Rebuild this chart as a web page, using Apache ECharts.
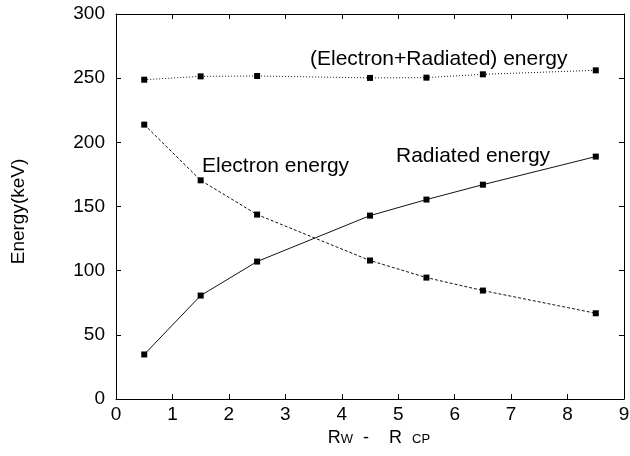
<!DOCTYPE html>
<html>
<head>
<meta charset="utf-8">
<script src="https://cdn.jsdelivr.net/npm/echarts@6/dist/echarts.min.js"></script>
<style>html,body{margin:0;padding:0;background:#fff}#c{width:630px;height:456px}</style>
</head>
<body>
<div id="c"></div>
<script>
var xValues = [0.5, 1.5, 2.5, 4.5, 5.5, 6.5, 8.5];
var electronEnergy = [213.8, 170.4, 143.7, 107.9, 94.6, 84.5, 66.8];
var radiatedEnergy = [34.7, 80.6, 107.1, 142.9, 155.4, 167.0, 188.9];
var totalEnergy = [248.8, 251.4, 251.7, 250.2, 250.4, 253.0, 256.1];
var seriesNames = ['(Electron+Radiated) energy', 'Electron energy', 'Radiated energy'];
var yAxisName = 'Energy(keV)';

function pairs(ys) { return xValues.map(function (x, i) { return [x, ys[i]]; }); }

var FONT = 'Liberation Sans';
var chart = echarts.init(document.getElementById('c'), null, { renderer: 'canvas' });
function axisBase() {
  return {
    axisLine: { show: true, onZero: false, lineStyle: { color: '#000', width: 1 } },
    axisTick: { show: true, inside: true, length: 5, lineStyle: { color: '#000', width: 1 } },
    splitLine: { show: false }
  };
}
function seriesOf(name, data, type) {
  return {
    name: name, type: 'line', data: pairs(data),
    symbol: 'rect', symbolSize: 6, showSymbol: true,
    itemStyle: { color: '#000' },
    lineStyle: { color: '#111', width: 1, type: type },
    animation: false
  };
}
chart.setOption({
  animation: false,
  grid: { left: 116, right: 6, top: 14, bottom: 57, containLabel: false, outerBoundsMode: 'none' },
  xAxis: [
    Object.assign(axisBase(), {
      type: 'value', min: 0, max: 9, interval: 1, position: 'bottom',
      axisLabel: { fontFamily: FONT, fontSize: 19, color: '#000', margin: 6 },
      name: '{r|R}{s|W}{r|  -    R  }{s|CP}',
      nameLocation: 'middle', nameGap: 29,
      nameTextStyle: {
        padding: [0, 0, 0, 18],
        rich: {
          r: { fontFamily: FONT, fontSize: 18, lineHeight: 17, padding: [0, 0, 6, 0], verticalAlign: 'top', color: '#000' },
          s: { fontFamily: FONT, fontSize: 13, lineHeight: 13, verticalAlign: 'bottom', color: '#000' }
        }
      }
    }),
    Object.assign(axisBase(), {
      type: 'value', min: 0, max: 9, interval: 1, position: 'top',
      axisLabel: { show: false }
    })
  ],
  yAxis: [
    Object.assign(axisBase(), {
      type: 'value', min: 0, max: 300, interval: 50, position: 'left',
      axisLabel: { fontFamily: FONT, fontSize: 19, color: '#000', margin: 11 },
      name: yAxisName, nameLocation: 'middle', nameGap: 88,
      nameTextStyle: { fontFamily: FONT, fontSize: 19, color: '#000', padding: [0, 10, 0, 0] }
    }),
    Object.assign(axisBase(), {
      type: 'value', min: 0, max: 300, interval: 50, position: 'right',
      axisLabel: { show: false }
    })
  ],
  series: [
    seriesOf(seriesNames[0], totalEnergy, [1, 2]),
    seriesOf(seriesNames[1], electronEnergy, [3, 2]),
    seriesOf(seriesNames[2], radiatedEnergy, 'solid')
  ],
  graphic: [
    { type: 'text', left: 310, top: 49, style: { text: seriesNames[0], fontFamily: FONT, fontSize: 21, fill: '#000' } },
    { type: 'text', left: 202, top: 156, style: { text: seriesNames[1], fontFamily: FONT, fontSize: 21, fill: '#000' } },
    { type: 'text', left: 396, top: 146, style: { text: seriesNames[2], fontFamily: FONT, fontSize: 21, fill: '#000' } }
  ]
});
</script>
</body>
</html>
